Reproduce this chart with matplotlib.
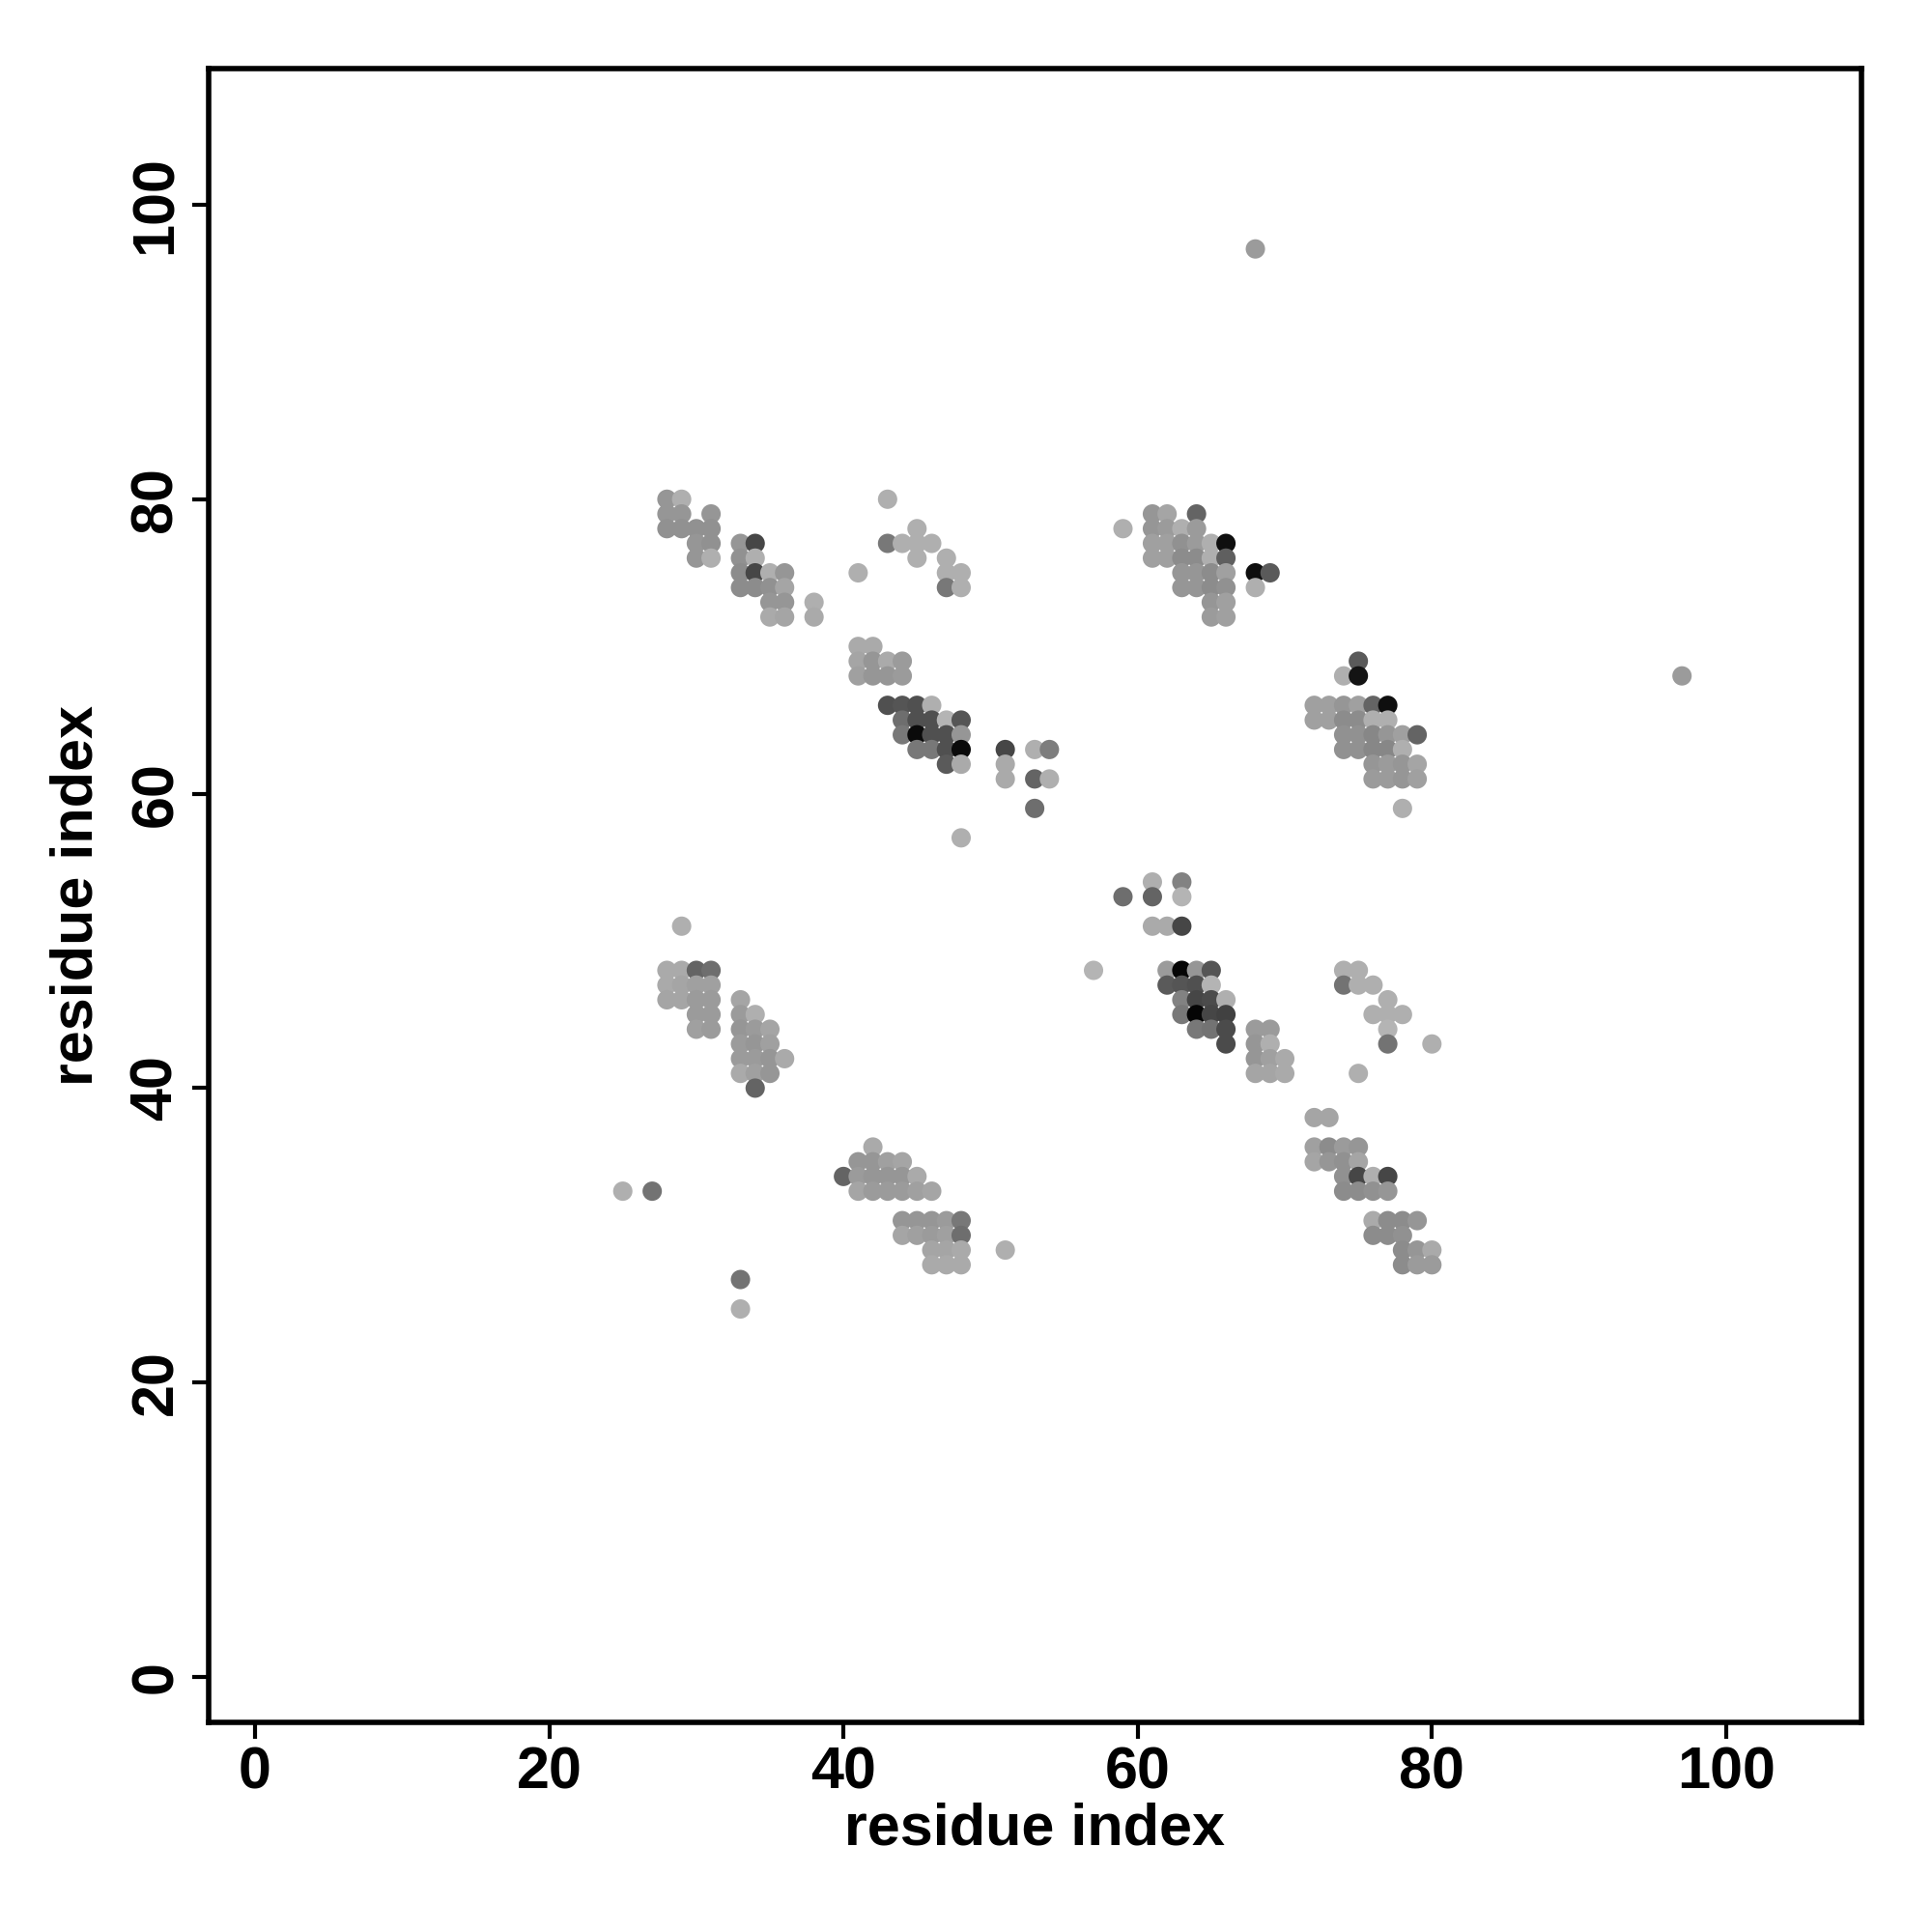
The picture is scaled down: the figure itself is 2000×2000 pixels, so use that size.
import matplotlib
matplotlib.use("Agg")
import matplotlib.pyplot as plt
import numpy as np

# contacts: (residue i, residue j, grey level 0=black..255=white)
cluster_a = [(28,80,150),(29,80,175),
    (28,79,150),(29,79,150),(31,79,150),
    (28,78,145),(29,78,145),(30,78,145),(31,78,145),
    (30,77,150),(31,77,145),(33,77,150),(34,77,70),
    (30,76,150),(31,76,175),(33,76,145),(34,76,175),
    (33,75,140),(34,75,70),(35,75,175),(36,75,150),
    (33,74,140),(34,74,140),(35,74,145),(36,74,165),
    (35,73,150),(36,73,150),(38,73,175),
    (35,72,170),(36,72,165),(38,72,170)]
cluster_b = [(43,80,175),(45,78,175),(43,77,120),(44,77,175),(45,77,175),(46,77,175),
    (45,76,175),(47,76,175),(41,75,175),(47,75,175),(48,75,175),(47,74,120),(48,74,175),
    (41,70,170),(42,70,170),
    (41,69,165),(42,69,150),(43,69,170),(44,69,155),
    (41,68,160),(42,68,150),(43,68,150),(44,68,155),
    (43,66,80),(44,66,85),(45,66,80),(46,66,175),
    (44,65,110),(45,65,80),(46,65,80),(47,65,180),(48,65,85),
    (44,64,120),(45,64,10),(46,64,80),(47,64,80),(48,64,150),
    (45,63,120),(46,63,120),(47,63,80),(48,63,10),
    (47,62,90),(48,62,170),
    (48,57,175)]
cluster_c = [(51,63,70),(51,62,170),(51,61,170),(53,63,175),(54,63,125),
    (53,61,100),(54,61,175),(53,59,110)]
cluster_d = [(61,79,150),(62,79,165),(64,79,100),
    (59,78,175),(61,78,150),(62,78,155),(63,78,175),(64,78,155),
    (61,77,160),(62,77,160),(63,77,145),(64,77,155),(65,77,175),(66,77,15),
    (61,76,160),(62,76,160),(63,76,140),(64,76,140),(65,76,175),(66,76,95),
    (63,75,150),(64,75,150),(65,75,140),(66,75,160),(68,75,15),(69,75,90),
    (63,74,150),(64,74,150),(65,74,140),(66,74,145),(68,74,175),
    (65,73,150),(66,73,160),
    (65,72,155),(66,72,160)]
cluster_e = [(75,69,90),(74,68,175),(75,68,20),
    (72,66,160),(73,66,160),(74,66,150),(75,66,160),(76,66,100),(77,66,15),
    (72,65,160),(73,65,160),(74,65,140),(75,65,140),(76,65,175),(77,65,175),
    (74,64,145),(75,64,145),(76,64,135),(77,64,150),(78,64,160),(79,64,100),
    (74,63,145),(75,63,145),(76,63,135),(77,63,135),(78,63,175),
    (76,62,150),(77,62,155),(78,62,150),(79,62,165),
    (76,61,155),(77,61,155),(78,61,150),(79,61,160),
    (78,59,175)]
cluster_f = [(29,51,175),
    (28,48,170),(29,48,170),(30,48,100),(31,48,110),
    (28,47,170),(29,47,165),(30,47,160),(31,47,160),
    (28,46,165),(29,46,165),(30,46,155),(31,46,155),(33,46,165),
    (30,45,155),(31,45,155),(33,45,155),(34,45,175),
    (30,44,160),(31,44,155),(33,44,150),(34,44,155),(35,44,165),
    (33,43,155),(34,43,150),(35,43,160),
    (33,42,155),(34,42,155),(35,42,150),(36,42,170),
    (33,41,170),(34,41,160),(35,41,150),
    (34,40,100)]
cluster_g = [(61,54,175),(63,54,130),
    (59,53,110),(61,53,100),(63,53,180),
    (61,51,170),(62,51,170),(63,51,70),
    (57,48,180),(62,48,155),(63,48,5),(64,48,150),(65,48,85),
    (62,47,90),(63,47,85),(64,47,80),(65,47,180),
    (63,46,130),(64,46,70),(65,46,75),(66,46,175),
    (63,45,120),(64,45,5),(65,45,70),(66,45,65),
    (64,44,120),(65,44,115),(66,44,75),(68,44,155),(69,44,155),
    (66,43,75),(68,43,150),(69,43,175),
    (68,42,150),(69,42,160),(70,42,170),
    (68,41,165),(69,41,165),(70,41,170)]
cluster_h = [(74,48,175),(75,48,175),(74,47,115),(75,47,175),(76,47,175),(77,46,175),
    (76,45,175),(77,45,175),(78,45,175),(77,44,180),(77,43,115),(80,43,175),(75,41,175)]
cluster_i = [(42,36,170),
    (41,35,150),(42,35,150),(43,35,160),(44,35,165),
    (40,34,100),(41,34,155),(42,34,150),(43,34,150),(44,34,150),(45,34,170),
    (41,33,165),(42,33,155),(43,33,155),(44,33,155),(45,33,160),(46,33,165),
    (44,31,150),(45,31,150),(46,31,150),(47,31,155),(48,31,120),
    (44,30,165),(45,30,160),(46,30,155),(47,30,160),(48,30,110),
    (46,29,165),(47,29,165),(48,29,170),
    (46,28,170),(47,28,170),(48,28,170),
    (51,29,175)]
cluster_j = [(72,38,165),(73,38,165),
    (72,36,160),(73,36,140),(74,36,155),(75,36,150),
    (72,35,165),(73,35,150),(74,35,145),(75,35,165),
    (74,34,145),(75,34,70),(76,34,175),(77,34,70),
    (74,33,140),(75,33,140),(76,33,145),(77,33,150),
    (76,31,170),(77,31,140),(78,31,140),(79,31,150),
    (76,30,140),(77,30,140),(78,30,145),
    (78,29,140),(79,29,150),(80,29,170),
    (78,28,140),(79,28,155),(80,28,155)]
cluster_k = [(25,33,175),(27,33,115),(33,27,115),(33,25,175)]
outliers = [(68,97,155),(97,68,155)]

ticks = [0, 20, 40, 60, 80, 100]

clusters = [cluster_a, cluster_b, cluster_c, cluster_d, cluster_e, cluster_f,
            cluster_g, cluster_h, cluster_i, cluster_j, cluster_k, outliers]
pts = np.array([p for c in clusters for p in c], dtype=float)
xs, ys, gs = pts[:, 0], pts[:, 1], pts[:, 2] / 255.0
cols = [(g, g, g) for g in gs]

plt.rcParams['font.family'] = ['Liberation Sans', 'DejaVu Sans']
plt.rcParams['font.weight'] = 'bold'

fig = plt.figure(figsize=(10, 10), dpi=200)
ax = fig.add_axes([0.108, 0.1085, 0.8555, 0.856])
ax.scatter(xs, ys, s=52, c=cols, edgecolors='none', zorder=3)

ax.set_xlim(-3.15, 109.2)
ax.set_ylim(-3.08, 109.25)
ax.set_xticks(ticks)
ax.set_yticks(ticks)
ax.set_xticklabels([str(t) for t in ticks], fontsize=22, fontweight='bold')
ax.set_yticklabels([str(t) for t in ticks], fontsize=22, fontweight='bold',
                   rotation=90, va='center')
ax.tick_params(axis='both', direction='out', length=6, width=1.5, pad=3)
for sp in ax.spines.values():
    sp.set_linewidth(2.0)
ax.set_xlabel('residue index', fontsize=22, fontweight='bold', labelpad=0)
ax.set_ylabel('residue index', fontsize=22, fontweight='bold', labelpad=9)

fig.savefig('out.png', dpi=200, facecolor='white')
